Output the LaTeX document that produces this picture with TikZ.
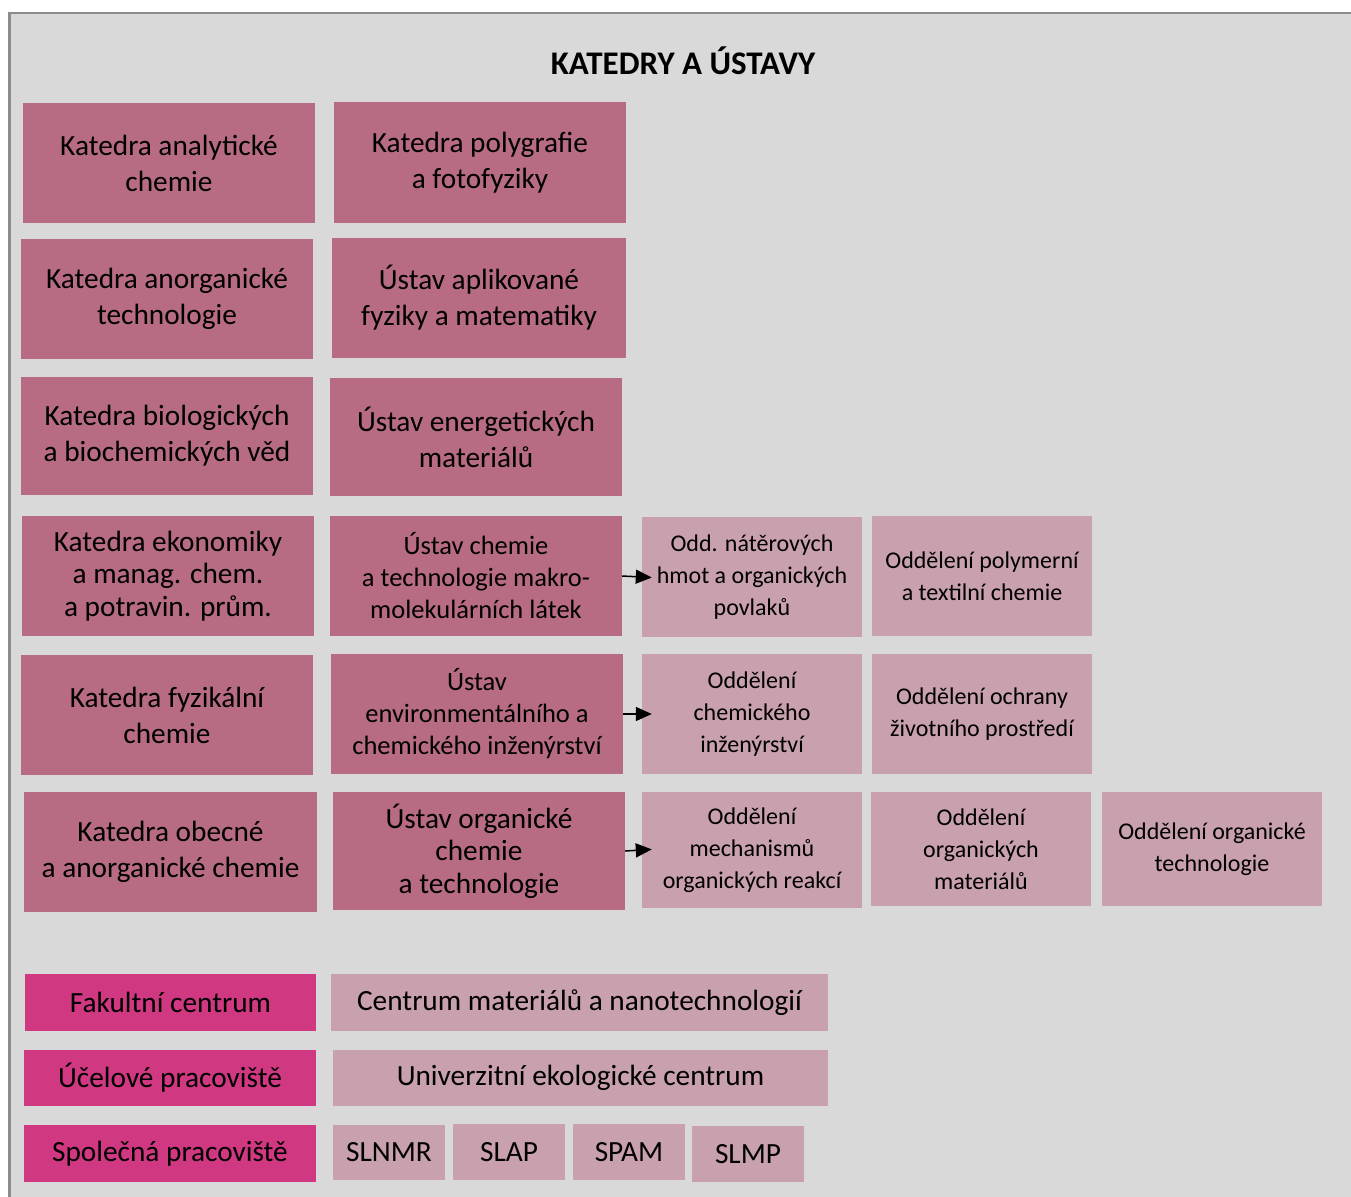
\documentclass[tikz,border=0pt]{standalone}
\usepackage{fontspec}
\setmainfont{Carlito}
\usetikzlibrary{arrows.meta}

\definecolor{bgframe}{RGB}{217,217,217}
\definecolor{edgeframe}{RGB}{140,140,140}
\definecolor{katedra}{RGB}{184,108,131}
\definecolor{oddeleni}{RGB}{201,160,174}
\definecolor{pracoviste}{RGB}{208,56,130}

\newcommand{\bigfont}{\fontsize{29.3}{36}\selectfont}
\newcommand{\tightfont}{\fontsize{29.3}{32.5}\selectfont}
\newcommand{\midfont}{\fontsize{26.5}{32}\selectfont}
\newcommand{\smallfont}{\fontsize{24}{32}\selectfont}

\begin{document}
\begin{tikzpicture}[
    x=1pt,
    y=-1pt,
    every node/.style={inner sep=0pt, align=center, text=black},
    dept/.style={fill=katedra, minimum width=292pt, minimum height=120pt, font=\bigfont},
    sect/.style={fill=oddeleni, minimum width=220pt, minimum height=120pt, font=\smallfont},
    unit/.style={fill=pracoviste, minimum width=292pt, minimum height=57pt, font=\bigfont},
    place/.style={fill=oddeleni, minimum height=56pt, font=\bigfont},
    lab/.style={fill=oddeleni, minimum width=112pt, minimum height=56pt, font=\bigfont},
    arr/.style={-{Triangle[length=16pt,width=14pt]}, line width=1.5pt, shorten >=-10pt}
]

%------------------------------------------------------------
% Frame
%------------------------------------------------------------

\useasboundingbox (0,0) rectangle (1351,1196);

\fill[white]
(0,0) rectangle (1351,1196);

\draw[edgeframe,line width=2.5pt,fill=bgframe]
(9.25,1220)--(9.25,13.25)--(1370,13.25)--(1370,1220)--cycle;

\node[font=\bfseries\fontsize{33}{40}\selectfont] (title)
at (683,60.5)
{KATEDRY A ÚSTAVY};

%------------------------------------------------------------
% Katedry (first column)
%------------------------------------------------------------

\node[dept] (kac) at (169,163) {Katedra analytické\\chemie};
\node[dept] (kat) at (167,299) {Katedra anorganické\\technologie};
\node[dept,minimum height=118pt] (kbv) at (167,436) {Katedra biologických\\a biochemických věd};
\node[dept,font=\tightfont] (kem) at (168,576) {Katedra ekonomiky\\a manag. chem.\\a potravin. prům.};
\node[dept] (kfc) at (167,715) {Katedra fyzikální\\chemie};
\node[dept,minimum width=293pt] (koc) at (170.5,852) {Katedra obecné\\a anorganické chemie};

%------------------------------------------------------------
% Katedry and ustavy (second column)
%------------------------------------------------------------

\node[dept] (kpf) at (480,162.5) {Katedra polygrafie\\a fotofyziky};
\node[dept,minimum width=294pt] (uam) at (479,298) {Ústav aplikované\\fyziky a matematiky};
\node[dept,minimum height=118pt] (uem) at (476,437) {Ústav energetických\\materiálů};
\node[dept,font=\midfont] (ucm) at (476,576) {Ústav chemie\\a technologie makro-\\molekulárních látek};
\node[dept,font=\midfont] (uei) at (477,714) {Ústav\\environmentálního a\\chemického inženýrství};
\node[dept,font=\tightfont,minimum height=118pt] (uoc) at (479,851) {Ústav organické\\chemie\\a technologie};

%------------------------------------------------------------
% Oddeleni
%------------------------------------------------------------

\node[sect] (onh) at (752,577) {Odd. nátěrových\\hmot a organických\\povlaků};
\node[sect] (opt) at (982,576) {Oddělení polymerní\\a textilní chemie};

\node[sect] (oci) at (752,714) {Oddělení\\chemického\\inženýrství};
\node[sect] (ozp) at (982,714) {Oddělení ochrany\\životního prostředí};

\node[sect,minimum height=116pt] (omr) at (752,850) {Oddělení\\mechanismů\\organických reakcí};
\node[sect,minimum height=114pt] (oom) at (981,849) {Oddělení\\organických\\materiálů};
\node[sect,minimum height=114pt] (oot) at (1212,849) {Oddělení organické\\technologie};

%------------------------------------------------------------
% Arrows
%------------------------------------------------------------

\draw[arr] (ucm.east)--(onh.west);
\draw[arr] (uei.east)--(oci.west);
\draw[arr] (uoc.east)--(omr.west);

%------------------------------------------------------------
% Pracoviste
%------------------------------------------------------------

\node[unit,minimum width=291pt] (fc) at (170.5,1002.5) {Fakultní centrum};
\node[unit,minimum height=56pt] (up) at (170,1078) {Účelové pracoviště};
\node[unit] (sp) at (170,1153.5) {Společná pracoviště};

\node[place,minimum width=497pt,minimum height=57pt] (cmn) at (579.5,1002.5) {Centrum materiálů a nanotechnologií};
\node[place,minimum width=495pt] (uec) at (580.5,1078) {Univerzitní ekologické centrum};

% spolecne laboratore
\node[lab,minimum height=55pt] (slnmr) at (389,1152.5) {SLNMR};
\node[lab] (slap) at (509,1152) {SLAP};
\node[lab] (spam) at (629,1152) {SPAM};
\node[lab] (slmp) at (748,1154) {SLMP};

\end{tikzpicture}
\end{document}
